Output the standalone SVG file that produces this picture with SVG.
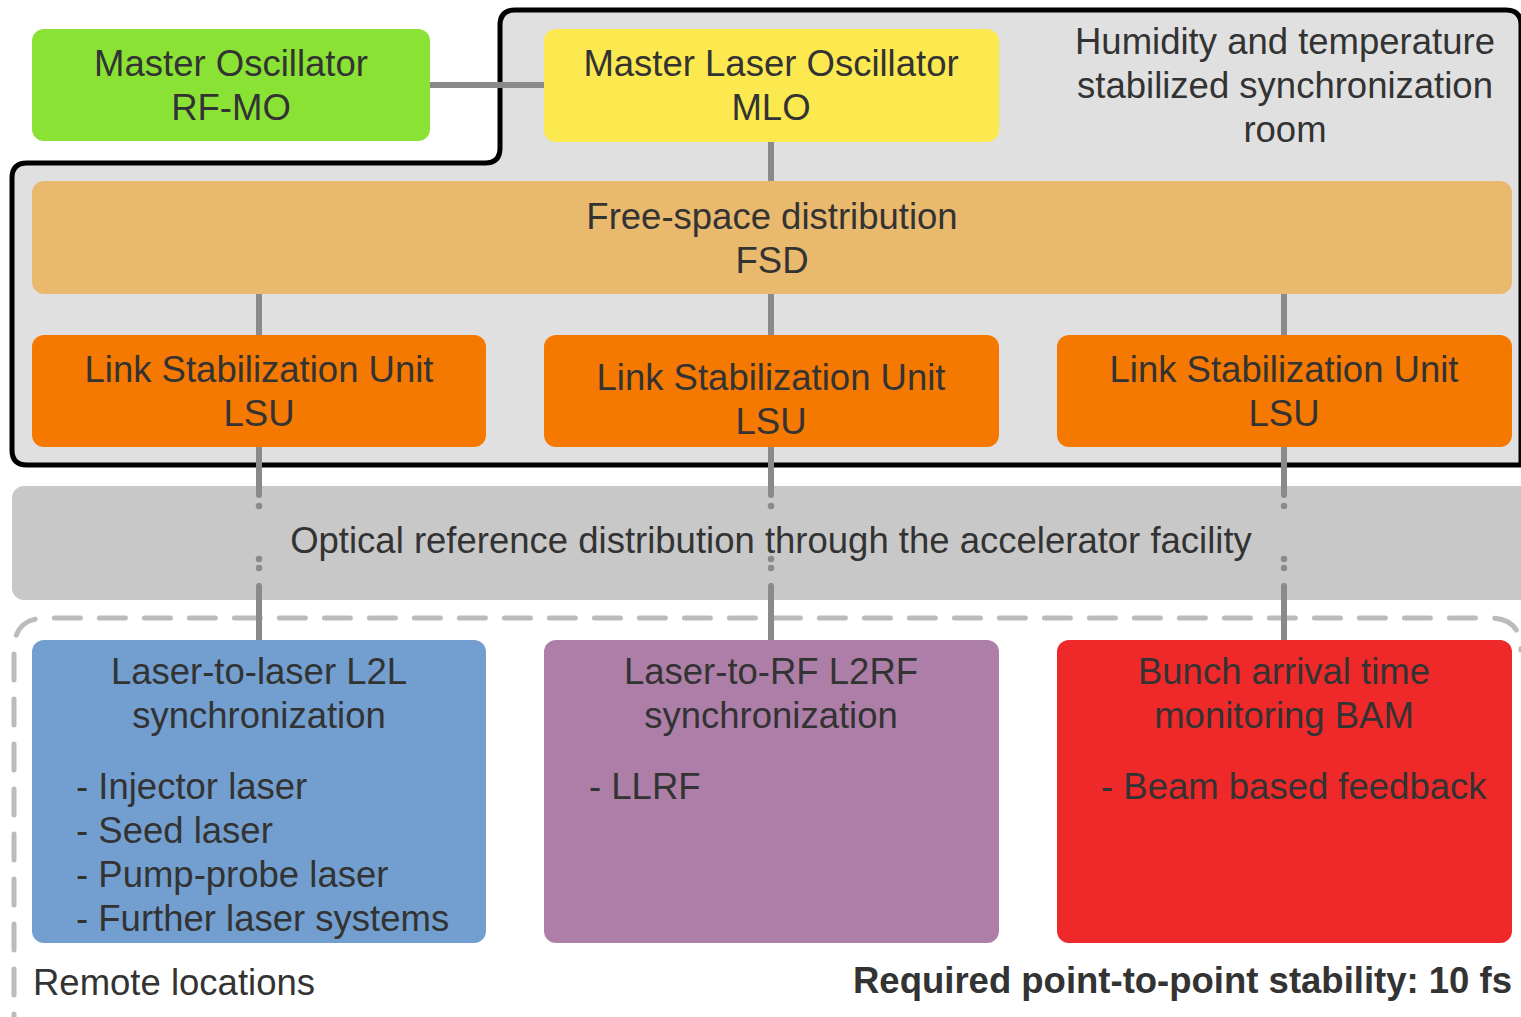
<svg xmlns="http://www.w3.org/2000/svg" width="1521" height="1017" viewBox="0 0 1521 1017">
<style>
text{font-family:"Liberation Sans",Arial,sans-serif;font-size:36.5px;fill:#333333;text-anchor:middle}
.l{text-anchor:start}
.b{font-weight:bold;text-anchor:end}
.c{stroke:#8a8a8a;stroke-width:6;stroke-linecap:round;fill:none}
.d{stroke:#8a8a8a;stroke-width:6.5;stroke-linecap:round;fill:none;stroke-dasharray:0 9}
</style>
<rect x="0" y="0" width="1521" height="1017" fill="#ffffff"/>
<g id="room">
<path d="M515,10 H1506 Q1521,10 1521,25 V465 H27 Q12,465 12,450 V178 Q12,163 27,163 H485 Q500,163 500,148 V25 Q500,10 515,10 Z" fill="#e0e0e0" stroke="#000000" stroke-width="5"/>
<text x="1285" y="54">Humidity and temperature</text>
<text x="1285" y="98">stabilized synchronization</text>
<text x="1285" y="142">room</text>
</g>
<g id="band">
<rect x="12" y="486" width="1530" height="114" rx="12" fill="#c8c8c8"/>
</g>
<g id="remote">
<path d="M14,1040 V650 Q14,618 46,618 H1490 Q1521,618 1521,650" fill="none" stroke="#bbbbbb" stroke-width="5" stroke-linecap="round" stroke-dasharray="26 19"/>
<text class="l" x="33" y="995">Remote locations</text>
<text class="b" x="1512" y="993">Required point-to-point stability: 10 fs</text>
</g>
<g id="connectors">
<line class="c" x1="430" y1="85" x2="544" y2="85"/>
<line class="c" x1="771" y1="142" x2="771" y2="181"/>
<line class="c" x1="259" y1="294" x2="259" y2="335"/>
<line class="c" x1="771" y1="294" x2="771" y2="335"/>
<line class="c" x1="1284" y1="294" x2="1284" y2="335"/>
<line class="c" x1="259" y1="447" x2="259" y2="495"/>
<line class="c" x1="771" y1="447" x2="771" y2="495"/>
<line class="c" x1="1284" y1="447" x2="1284" y2="495"/>
<line class="d" x1="259" y1="506" x2="259" y2="515"/>
<line class="d" x1="771" y1="506" x2="771" y2="515"/>
<line class="d" x1="1284" y1="506" x2="1284" y2="515"/>
<line class="d" x1="259" y1="559" x2="259" y2="577"/>
<line class="d" x1="771" y1="559" x2="771" y2="577"/>
<line class="d" x1="1284" y1="559" x2="1284" y2="577"/>
<line class="c" x1="259" y1="586" x2="259" y2="640"/>
<line class="c" x1="771" y1="586" x2="771" y2="640"/>
<line class="c" x1="1284" y1="586" x2="1284" y2="640"/>
</g>
<g id="band-label">
<text x="771" y="553">Optical reference distribution through the accelerator facility</text>
</g>
<g id="rfmo">
<rect x="32" y="29" width="398" height="112" rx="12" fill="#8ae234"/>
<text x="231" y="76">Master Oscillator</text>
<text x="231" y="120">RF-MO</text>
</g>
<g id="mlo">
<rect x="544" y="29" width="455" height="113" rx="12" fill="#fce94f"/>
<text x="771" y="76">Master Laser Oscillator</text>
<text x="771" y="120">MLO</text>
</g>
<g id="fsd">
<rect x="32" y="181" width="1480" height="113" rx="12" fill="#e9b96e"/>
<text x="772" y="229">Free-space distribution</text>
<text x="772" y="273">FSD</text>
</g>
<g id="lsu1">
<rect x="32" y="335" width="454" height="112" rx="12" fill="#f57900"/>
<text x="259" y="382">Link Stabilization Unit</text>
<text x="259" y="426">LSU</text>
</g>
<g id="lsu2">
<rect x="544" y="335" width="455" height="112" rx="12" fill="#f57900"/>
<text x="771" y="390">Link Stabilization Unit</text>
<text x="771" y="434">LSU</text>
</g>
<g id="lsu3">
<rect x="1057" y="335" width="455" height="112" rx="12" fill="#f57900"/>
<text x="1284" y="382">Link Stabilization Unit</text>
<text x="1284" y="426">LSU</text>
</g>
<g id="l2l">
<rect x="32" y="640" width="454" height="303" rx="12" fill="#729fcf"/>
<text x="259" y="684">Laser-to-laser L2L</text>
<text x="259" y="728">synchronization</text>
<text class="l" x="76" y="799">- Injector laser</text>
<text class="l" x="76" y="843">- Seed laser</text>
<text class="l" x="76" y="887">- Pump-probe laser</text>
<text class="l" x="76" y="931">- Further laser systems</text>
</g>
<g id="l2rf">
<rect x="544" y="640" width="455" height="303" rx="12" fill="#ad7fa8"/>
<text x="771" y="684">Laser-to-RF L2RF</text>
<text x="771" y="728">synchronization</text>
<text class="l" x="589" y="799">- LLRF</text>
</g>
<g id="bam">
<rect x="1057" y="640" width="455" height="303" rx="12" fill="#ef2929"/>
<text x="1284" y="684">Bunch arrival time</text>
<text x="1284" y="728">monitoring BAM</text>
<text class="l" x="1101" y="799">- Beam based feedback</text>
</g>
</svg>
